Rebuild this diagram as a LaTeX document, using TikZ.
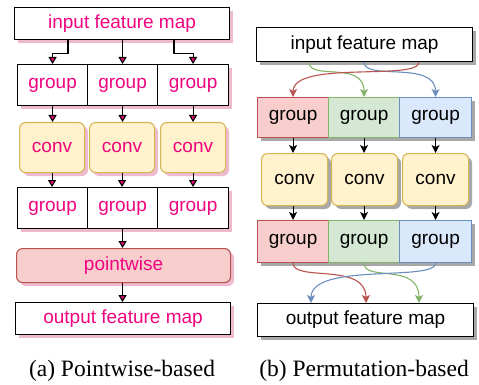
\documentclass[tikz,border=0pt]{standalone}
\usepackage{fontspec}
\setmainfont{Liberation Serif}
\setsansfont{Liberation Sans}
\usetikzlibrary{arrows.meta,calc}
\definecolor{mag}{HTML}{F0047F}
\definecolor{lshadow}{HTML}{EDBACE}
\definecolor{rshadow}{HTML}{A8A8A8}
\definecolor{convfill}{HTML}{FFF2CC}
\definecolor{convdraw}{HTML}{D6B656}
\definecolor{redfill}{HTML}{F8CECC}
\definecolor{reddraw}{HTML}{B85450}
\definecolor{greenfill}{HTML}{D5E8D4}
\definecolor{greendraw}{HTML}{82B366}
\definecolor{bluefill}{HTML}{DAE8FC}
\definecolor{bluedraw}{HTML}{6C8EBF}
\tikzset{
  box/.style={draw, line width=1.1pt, anchor=north west, inner sep=0pt, fill=white,
    font=\sffamily\fontsize{19}{22}\selectfont},
  convbox/.style={box, rounded corners=6pt, fill=convfill, draw=convdraw},
  larr/.style={line width=1.1pt, -{Triangle[length=7pt,width=8pt,fill=mag]}},
  rarr/.style={line width=1.1pt, -{Stealth[length=8pt,width=8pt,inset=2pt]}},
  captext/.style={font=\rmfamily\fontsize{23.5}{28}\selectfont}
}
% #1 shadow colour, #2 corner radius, #3 node options, #4 name, #5 x, #6 y, #7 w, #8 h, #9 text
\newcommand\mknode[9]{%
  \fill[#1,rounded corners=#2] (#5+4,#6+4) rectangle ++(#7,#8);
  \node[#3,minimum width=#7pt,minimum height=#8pt] (#4) at (#5,#6) {#9};}
\begin{document}
\begin{tikzpicture}[x=1pt,y=-1pt]
\useasboundingbox (0,0) rectangle (479,385);
% ---------- left panel ----------
\mknode{lshadow}{0pt}{box,text=mag}{lin}{14}{7}{215}{32}{input feature map}
\mknode{lshadow}{0pt}{box,text=mag}{lg1}{17}{64}{70}{41}{group}
\mknode{lshadow}{0pt}{box,text=mag}{lg2}{87}{64}{70}{41}{group}
\mknode{lshadow}{0pt}{box,text=mag}{lg3}{157}{64}{71}{41}{group}
\mknode{lshadow}{6pt}{convbox,text=mag}{lc1}{19}{122}{65}{50}{conv}
\mknode{lshadow}{6pt}{convbox,text=mag}{lc2}{89}{122}{65}{50}{conv}
\mknode{lshadow}{6pt}{convbox,text=mag}{lc3}{160}{122}{65}{50}{conv}
\mknode{lshadow}{0pt}{box,text=mag}{lh1}{17}{187}{70}{41}{group}
\mknode{lshadow}{0pt}{box,text=mag}{lh2}{87}{187}{70}{41}{group}
\mknode{lshadow}{0pt}{box,text=mag}{lh3}{157}{187}{71}{41}{group}
\mknode{lshadow}{6pt}{box,text=mag,rounded corners=6pt,fill=redfill,draw=reddraw}{lp}{16}{248}{214}{34}{pointwise}
\mknode{lshadow}{0pt}{box,text=mag}{lout}{15}{302}{215}{32}{output feature map}
\draw[larr] ([xshift=54pt]lin.south west) -- ++(0,13) -| (lg1.north);
\draw[larr] (lin.south -| lg2.north) -- (lg2.north);
\draw[larr] ([xshift=160pt]lin.south west) -- ++(0,13) -| (lg3.north);
\foreach \i in {1,2,3}{
  \draw[larr] (lg\i.south) -- (lg\i.south |- lc\i.north);
  \draw[larr] (lc\i.south) -- (lc\i.south |- lh\i.north);
}
\draw[larr] (lh2.south) -- (lh2.south |- lp.north);
\draw[larr] (lp.south -| lh2.south) -- (lh2.south |- lout.north);
\node[captext] (capa) at (122,371) {(a) Pointwise-based};
% ---------- right panel ----------
\mknode{rshadow}{0pt}{box}{rin}{256}{27}{216}{34}{input feature map}
\mknode{rshadow}{0pt}{box,fill=redfill,draw=reddraw}{rg1}{257}{97}{71}{40}{group}
\mknode{rshadow}{0pt}{box,fill=greenfill,draw=greendraw}{rg2}{328}{97}{71}{40}{group}
\mknode{rshadow}{0pt}{box,fill=bluefill,draw=bluedraw}{rg3}{399}{97}{72}{40}{group}
\mknode{rshadow}{6pt}{convbox}{rc1}{261}{153}{66}{52}{conv}
\mknode{rshadow}{6pt}{convbox}{rc2}{331}{153}{66}{52}{conv}
\mknode{rshadow}{6pt}{convbox}{rc3}{402}{153}{66}{52}{conv}
\mknode{rshadow}{0pt}{box,fill=redfill,draw=reddraw}{rh1}{257}{220}{71}{42}{group}
\mknode{rshadow}{0pt}{box,fill=greenfill,draw=greendraw}{rh2}{328}{220}{71}{42}{group}
\mknode{rshadow}{0pt}{box,fill=bluefill,draw=bluedraw}{rh3}{399}{220}{72}{42}{group}
\mknode{rshadow}{0pt}{box}{rout}{257}{303}{216}{33}{output feature map}
\coordinate (r1) at ([xshift=163pt]rin.south west);
\coordinate (r2) at ([xshift=53pt]rin.south west);
\coordinate (r3) at ([xshift=108pt]rin.south west);
\draw[rarr,draw=greendraw] (r2) .. controls +(0,19) and +(0,-37) .. (rg2.north);
\draw[rarr,draw=bluedraw] (r3) .. controls +(0,19) and +(0,-37) .. (rg3.north);
\draw[rarr,draw=reddraw] (r1) .. controls +(0,19) and +(0,-37) .. (rg1.north);
\foreach \i in {1,2,3}{
  \draw[rarr] (rg\i.south) -- (rg\i.south |- rc\i.north);
  \draw[rarr] (rc\i.south -| rg\i.south) -- (rg\i.south |- rh\i.north);
}
\coordinate (o1) at ([xshift=109pt]rout.north west);
\coordinate (o2) at ([xshift=162pt]rout.north west);
\coordinate (o3) at ([xshift=54pt]rout.north west);
\draw[rarr,draw=reddraw] (rh1.south) .. controls +(0,19) and +(0,-41) .. (o1);
\draw[rarr,draw=greendraw] (rh2.south) .. controls +(0,19) and +(0,-41) .. (o2);
\draw[rarr,draw=bluedraw] (rh3.south) .. controls +(0,19) and +(0,-41) .. (o3);
\node[captext] (capb) at (364,371) {(b) Permutation-based};
\end{tikzpicture}
\end{document}
